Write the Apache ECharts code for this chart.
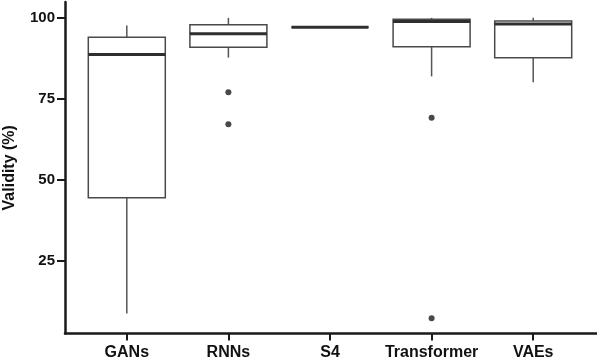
<!DOCTYPE html>
<html>
<head>
<meta charset="utf-8">
<script src="https://cdn.jsdelivr.net/npm/echarts@6/dist/echarts.min.js"></script>
<style>
  html, body { margin: 0; padding: 0; background: #fff; }
  #chart { width: 597px; height: 360px; }
</style>
</head>
<body>
<div id="chart"></div>
<script>
// categories and box stats: [min, q1, median, q3, max]
const categories = ["GANs", "RNNs", "S4", "Transformer", "VAEs"];
const boxStats = [
  [8.6, 44.4, 88.7, 94.0, 97.6],
  [87.7, 90.9, 95.1, 97.9, 100],
  [97.1, 97.1, 97.1, 97.1, 97.1],
  [81.9, 91.1, 98.9, 99.6, 100],
  [80.1, 87.7, 98.1, 99.0, 100]
];
// outliers as [category index, value]
const outliers = [
  [1, 77.0], [1, 67.1],
  [3, 69.1], [3, 7.1]
];
const yTicks = [25, 50, 75, 100];
const yMin = 2.4, yMax = 104.9;

var chartDom = document.getElementById("chart");
var myChart = echarts.init(chartDom);

const boxData = boxStats.map((s, i) => [i].concat(s));
const font = "'Liberation Sans', Arial, sans-serif";
const axisColor = "#1a1a1a";

function renderBox(params, api) {
  const idx = api.value(0);
  const pMin = api.coord([idx, api.value(1)]);
  const pQ1 = api.coord([idx, api.value(2)]);
  const pMed = api.coord([idx, api.value(3)]);
  const pQ3 = api.coord([idx, api.value(4)]);
  const pMax = api.coord([idx, api.value(5)]);
  const half = 38.5;
  const x = pMed[0];
  const lineStyle = { stroke: "#555", lineWidth: 1.5 };
  return {
    type: "group",
    children: [
      { type: "line", shape: { x1: x, y1: pMin[1], x2: x, y2: pQ1[1] }, style: lineStyle },
      { type: "line", shape: { x1: x, y1: pQ3[1], x2: x, y2: pMax[1] }, style: lineStyle },
      {
        type: "rect",
        shape: { x: x - half, y: pQ3[1], width: half * 2, height: pQ1[1] - pQ3[1] },
        style: { fill: "#fff", stroke: "#4a4a4a", lineWidth: 1.5 }
      },
      {
        type: "line",
        shape: { x1: x - half, y1: pMed[1], x2: x + half, y2: pMed[1] },
        style: { stroke: "#2e2e2e", lineWidth: 3 }
      }
    ]
  };
}

let option = {
  animation: false,
  backgroundColor: "#fff",
  grid: [
    // axes frame
    { left: 65, right: 0, top: 2, bottom: 26.5, outerBoundsMode: "none", containLabel: false },
    // data area
    { left: 76, right: 13, top: 2, bottom: 26.5, outerBoundsMode: "none", containLabel: false }
  ],
  xAxis: [
    {
      gridIndex: 0,
      type: "value",
      min: 0,
      max: 1,
      axisLine: { show: true, lineStyle: { color: axisColor, width: 2.5 } },
      axisTick: { show: false },
      axisLabel: { show: false },
      splitLine: { show: false }
    },
    {
      gridIndex: 1,
      type: "category",
      data: categories,
      axisLine: { show: false },
      axisTick: { show: true, alignWithLabel: true, length: 7, lineStyle: { color: axisColor, width: 2 } },
      axisLabel: {
        color: "#111",
        fontFamily: font,
        fontWeight: "bold",
        fontSize: 16,
        margin: 11,
        interval: 0
      },
      splitLine: { show: false }
    }
  ],
  yAxis: [
    {
      gridIndex: 0,
      type: "value",
      min: yMin,
      max: yMax,
      name: "Validity (%)",
      nameLocation: "middle",
      nameGap: 47,
      nameTextStyle: { color: "#111", fontFamily: font, fontWeight: "bold", fontSize: 16 },
      axisLine: { show: true, lineStyle: { color: axisColor, width: 2.5 } },
      axisTick: { show: true, length: 8, lineStyle: { color: axisColor, width: 2 }, customValues: yTicks },
      axisLabel: {
        color: "#111",
        fontFamily: font,
        fontWeight: "bold",
        fontSize: 15,
        margin: 10,
        customValues: yTicks
      },
      splitLine: { show: false }
    },
    {
      gridIndex: 1,
      type: "value",
      min: yMin,
      max: yMax,
      show: false
    }
  ],
  series: [
    {
      type: "custom",
      xAxisIndex: 1,
      yAxisIndex: 1,
      renderItem: renderBox,
      encode: { x: 0, y: [1, 2, 3, 4, 5] },
      data: boxData
    },
    {
      type: "scatter",
      xAxisIndex: 1,
      yAxisIndex: 1,
      symbolSize: 6,
      itemStyle: { color: "#1a1a1a" },
      data: outliers
    }
  ]
};

option && myChart.setOption(option);
</script>
</body>
</html>
